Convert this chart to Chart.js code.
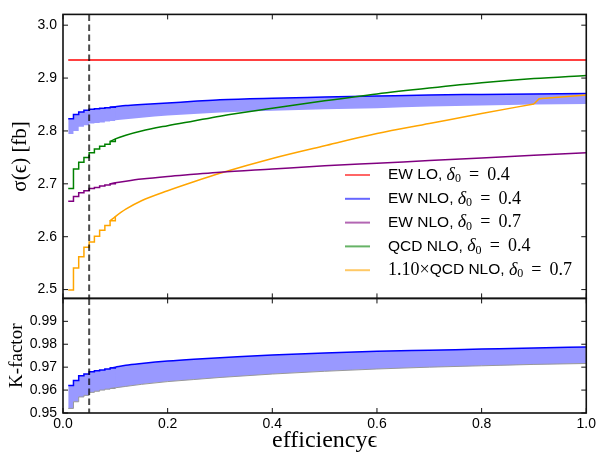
<!DOCTYPE html>
<html>
<head>
<meta charset="utf-8">
<script src="https://cdn.jsdelivr.net/npm/chart.js@4.4.0/dist/chart.umd.min.js"></script>
<style>
  html, body { margin: 0; padding: 0; background: #fff; }
</style>
</head>
<body>
<canvas id="c" width="599" height="455"></canvas>
<script>
var eff = [0.01, 0.02, 0.03, 0.04, 0.05, 0.06, 0.07, 0.08, 0.09, 0.10,
           0.12, 0.15, 0.20, 0.25, 0.30, 0.40, 0.50, 0.60, 0.70, 0.80, 0.90, 1.00];
// the rescaled QCD curve has a jump just after 0.90
var effQ = [0.01, 0.02, 0.03, 0.04, 0.05, 0.06, 0.07, 0.08, 0.09, 0.10,
            0.12, 0.15, 0.20, 0.25, 0.30, 0.40, 0.50, 0.60, 0.70, 0.80, 0.90, 0.91, 1.00];
var nStep = 10; // first points are drawn as steps

var loEff = [0.01, 1.00];
var ewLO = [2.934, 2.934];

var ewNLOhi = [2.823, 2.831, 2.836, 2.839, 2.841, 2.842, 2.843, 2.844, 2.845, 2.846,
               2.848, 2.850, 2.853, 2.856, 2.859, 2.862, 2.864, 2.866, 2.868, 2.869, 2.870, 2.871];
var ewNLOlo = [2.794, 2.800, 2.808, 2.811, 2.814, 2.815, 2.816, 2.818, 2.819, 2.820,
               2.822, 2.825, 2.829, 2.832, 2.835, 2.838, 2.841, 2.843, 2.846, 2.848, 2.850, 2.851];
var ewNLO07 = [2.667, 2.676, 2.683, 2.687, 2.691, 2.693, 2.696, 2.698, 2.700, 2.702,
               2.705, 2.709, 2.714, 2.718, 2.722, 2.728, 2.734, 2.739, 2.744, 2.749, 2.754, 2.759];
var qcdNLO = [2.691, 2.728, 2.741, 2.750, 2.759, 2.766, 2.771, 2.775, 2.780, 2.785,
              2.792, 2.800, 2.810, 2.819, 2.828, 2.843, 2.857, 2.870, 2.881, 2.891, 2.899, 2.905];
var qcdNLO07 = [2.499, 2.541, 2.562, 2.580, 2.590, 2.601, 2.612, 2.621, 2.630, 2.638,
                2.652, 2.668, 2.687, 2.704, 2.720, 2.748, 2.772, 2.795, 2.814, 2.833, 2.851, 2.861, 2.868];

var kHi = [0.9620, 0.9642, 0.9663, 0.9670, 0.9680, 0.9684, 0.9688, 0.9692, 0.9696, 0.9700,
           0.9708, 0.9716, 0.9727, 0.9735, 0.9741, 0.9753, 0.9762, 0.9769, 0.9774, 0.9779, 0.9784, 0.9788];
var kLo = [0.9520, 0.9549, 0.9570, 0.9577, 0.9590, 0.9595, 0.9600, 0.9604, 0.9607, 0.9610,
           0.9616, 0.9625, 0.9637, 0.9646, 0.9655, 0.9670, 0.9682, 0.9692, 0.9700, 0.9706, 0.9712, 0.9716];

var xTicks = [0.0, 0.2, 0.4, 0.6, 0.8, 1.0];
var yTicks = [2.5, 2.6, 2.7, 2.8, 2.9, 3.0];
var kTicks = [0.95, 0.96, 0.97, 0.98, 0.99];
var cutEff = 0.05;

var legendPrefix = ['', '', '', '', '1.10×'];
var legendName = ['EW LO,', 'EW NLO,', 'EW NLO,', 'QCD NLO,', 'QCD NLO,'];
var legendDelta = ['0.4', '0.4', '0.7', '0.4', '0.7'];
var legendColor = ['#ff0000', '#0000ff', '#800080', '#008000', '#ffa500'];

function pts(xs, vals, a, b) {
  var out = [];
  for (var i = a; i < b; i++) out.push({x: xs[i], y: vals[i]});
  return out;
}

// each curve = stepped head + smooth tail (tail overlaps one bin so fills join)
function curve(xs, vals, color, axis, extra, end) {
  end = end || xs.length;
  var head = Object.assign({data: pts(xs, vals, 0, nStep), stepped: 'before', yAxisID: axis,
    borderColor: color, borderWidth: 1.5, pointRadius: 0, fill: false, order: 1}, extra || {});
  var tail = Object.assign({data: pts(xs, vals, nStep - 2, end), yAxisID: axis,
    cubicInterpolationMode: 'monotone', tension: 0.4,
    borderColor: color, borderWidth: 1.5, pointRadius: 0, fill: false, order: 1}, extra || {});
  var parts = [head, tail];
  if (end < xs.length) {
    parts.push({data: pts(xs, vals, end - 1, xs.length), yAxisID: axis,
      borderColor: color, borderWidth: 1.5, pointRadius: 0, fill: false, order: 1});
  }
  return parts;
}

var band = '#9999ff';
var ds = [];
// EW NLO band (top), hi/lo pairs with fill to the next dataset
var hi = curve(eff, ewNLOhi, '#0000ff', 'y', {fill: '+1', backgroundColor: band, order: 10});
var lo = curve(eff, ewNLOlo, band, 'y', {borderWidth: 0, order: 11});
ds.push(hi[0], lo[0], hi[1], lo[1]);
// K factor band (bottom)
var khi = curve(eff, kHi, '#0000ff', 'k', {fill: '+1', backgroundColor: band, order: 10});
var klo = curve(eff, kLo, '#999999', 'k', {borderWidth: 1, order: 9});
ds.push(khi[0], klo[0], khi[1], klo[1]);
ds.push({data: pts(loEff, ewLO, 0, 2), yAxisID: 'y', borderColor: '#ff0000', borderWidth: 1.5,
  pointRadius: 0, fill: false, order: 1});
ds = ds.concat(curve(eff, ewNLO07, '#800080', 'y'), curve(eff, qcdNLO, '#008000', 'y'),
               curve(effQ, qcdNLO07, '#ffa500', 'y', null, effQ.indexOf(0.90) + 1));

var sans = '"Liberation Sans", Arial, sans-serif';
var serif = '"Liberation Serif", "Times New Roman", serif';

var decor = {
  id: 'decor',
  afterDatasetsDraw: function (chart) {
    var ctx = chart.ctx, a = chart.chartArea, xs = chart.scales.x;
    [chart.scales.y, chart.scales.k].forEach(function (s) {
      var top = s.top, bot = s.bottom;
      ctx.save();
      ctx.strokeStyle = 'rgba(0,0,0,0.7)';
      ctx.lineWidth = 2;
      ctx.setLineDash([6.5, 3.5]);
      var cx = xs.getPixelForValue(cutEff);
      ctx.beginPath(); ctx.moveTo(cx, top); ctx.lineTo(cx, bot); ctx.stroke();
      ctx.restore();

      ctx.save();
      ctx.strokeStyle = '#111';
      ctx.lineWidth = 1;
      ctx.beginPath();
      xs.ticks.forEach(function (t) {
        var px = xs.getPixelForValue(t.value);
        ctx.moveTo(px, bot); ctx.lineTo(px, bot - 5);
        ctx.moveTo(px, top); ctx.lineTo(px, top + 5);
      });
      s.ticks.forEach(function (t) {
        var py = s.getPixelForValue(t.value);
        ctx.moveTo(a.left, py); ctx.lineTo(a.left + 5, py);
        ctx.moveTo(a.right, py); ctx.lineTo(a.right - 5, py);
      });
      ctx.stroke();
      ctx.lineWidth = 1.6;
      ctx.strokeRect(a.left, top, a.right - a.left, bot - top);
      ctx.restore();
    });

    // legend inside the top panel
    ctx.save();
    ctx.textBaseline = 'middle';
    for (var i = 0; i < legendName.length; i++) {
      var y = 175 + i * 23.8;
      ctx.globalAlpha = 0.6;
      ctx.strokeStyle = legendColor[i];
      ctx.lineWidth = 2;
      ctx.beginPath(); ctx.moveTo(345, y); ctx.lineTo(370, y); ctx.stroke();
      ctx.globalAlpha = 1;
      ctx.fillStyle = '#000';
      var x = 388;
      var runs = [
        ['18px ' + serif, legendPrefix[i], 0],
        ['15.5px ' + sans, legendName[i] + ' ', 0],
        ['italic 18px ' + serif, 'δ', 0],
        ['12px ' + serif, '0', 4],
        ['18px ' + serif, '\u2009 = \u2009' + legendDelta[i], 0]
      ];
      runs.forEach(function (r) {
        if (!r[1]) return;
        ctx.font = r[0];
        ctx.fillText(r[1], x, y + r[2]);
        x += ctx.measureText(r[1]).width;
      });
    }
    ctx.restore();
  }
};

function setTicks(list) {
  return function (s) { s.ticks = list.map(function (v) { return {value: v}; }); };
}

new Chart(document.getElementById('c'), {
  type: 'line',
  data: {datasets: ds},
  options: {
    responsive: false,
    animation: false,
    layout: {padding: {top: 6, right: 11, left: 0, bottom: 0}},
    plugins: {legend: {display: false}, tooltip: {enabled: false}},
    scales: {
      x: {
        type: 'linear', min: 0, max: 1,
        grid: {display: false, drawTicks: false},
        border: {display: false},
        afterBuildTicks: setTicks(xTicks),
        afterFit: function (s) { s.height = 42; },
        ticks: {autoSkip: false, maxRotation: 0, padding: 3, color: '#000',
          font: {family: sans, size: 14},
          callback: function (v) { return v.toFixed(1); }},
        title: {display: true, text: 'efficiencyϵ', color: '#000',
          font: {family: serif, size: 24}, padding: {top: 0, bottom: 0}}
      },
      y: {
        type: 'linear', min: 2.4833, max: 3.0204, position: 'left',
        stack: 'panels', stackWeight: 290, weight: 1,
        grid: {display: false, drawTicks: false},
        border: {display: false},
        afterBuildTicks: setTicks(yTicks),
        afterFit: function (s) { s.width = 63; },
        ticks: {autoSkip: false, padding: 6, color: '#000', font: {family: sans, size: 14},
          callback: function (v) { return v.toFixed(1); }},
        title: {display: true, text: 'σ(ϵ) [fb]', color: '#000',
          font: {family: serif, size: 21}, padding: {top: 8, bottom: 0}}
      },
      k: {
        type: 'linear', min: 0.95, max: 1.0, position: 'left',
        stack: 'panels', stackWeight: 117, weight: 0,
        grid: {display: false, drawTicks: false},
        border: {display: false},
        afterBuildTicks: setTicks(kTicks),
        afterFit: function (s) { s.width = 63; },
        ticks: {autoSkip: false, padding: 6, color: '#000', font: {family: sans, size: 14},
          callback: function (v) { return v.toFixed(2); }},
        title: {display: true, text: 'K-factor', color: '#000',
          font: {family: serif, size: 19}, padding: {top: 6, bottom: 0}}
      }
    }
  },
  plugins: [decor]
});
</script>
</body>
</html>
